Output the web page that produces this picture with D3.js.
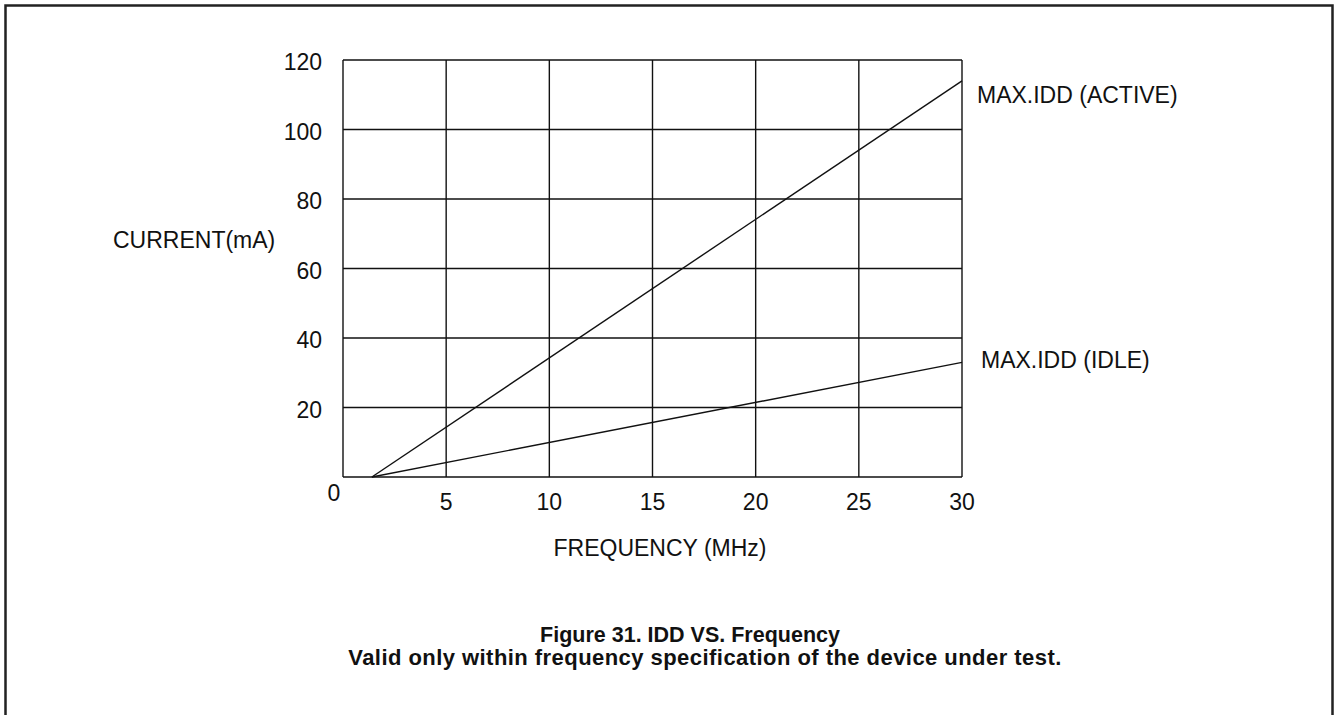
<!DOCTYPE html>
<html>
<head>
<meta charset="utf-8">
<script src="https://cdn.jsdelivr.net/npm/d3@7"></script>
<style>
  html, body { margin: 0; padding: 0; background: #fff; }
  text { font-family: "Liberation Sans", Arial, sans-serif; fill: #111; }
</style>
</head>
<body>
<div id="chart"></div>
<script>
// Data
const xTicks = [0, 5, 10, 15, 20, 25, 30];
const yTicks = [20, 40, 60, 80, 100, 120];
const activeSeries = [[1.4, 0], [30, 114]];
const idleSeries = [[1.4, 0], [30, 33]];
const seriesNames = ["MAX.IDD (ACTIVE)", "MAX.IDD (IDLE)"];

const width = 1335, height = 715;
const plot = { left: 343, right: 962, top: 60, bottom: 477 };
const fs = "23px";

const svg = d3.select("#chart")
    .append("svg")
    .attr("width", width)
    .attr("height", height);

// outer frame (no bottom edge)
svg.append("path")
    .attr("d", `M5.5,${height} L5.5,5.5 L1332.5,5.5 L1332.5,${height}`)
    .attr("fill", "none")
    .attr("stroke", "#222")
    .attr("stroke-width", 2.5);

const x = d3.scaleLinear().domain([0, 30]).range([plot.left, plot.right]);
const y = d3.scaleLinear().domain([0, 120]).range([plot.bottom, plot.top]);

// grid
const grid = svg.append("g").attr("stroke", "#111").attr("stroke-width", 1.4);
grid.selectAll(".vx")
    .data(xTicks)
    .enter()
    .append("line")
    .attr("x1", d => x(d)).attr("x2", d => x(d))
    .attr("y1", plot.top).attr("y2", plot.bottom);
grid.selectAll(".hy")
    .data([0].concat(yTicks))
    .enter()
    .append("line")
    .attr("x1", plot.left).attr("x2", plot.right)
    .attr("y1", d => y(d)).attr("y2", d => y(d));

// tick labels
svg.selectAll(".ylab")
    .data(yTicks)
    .enter()
    .append("text")
    .attr("x", plot.left - 21)
    .attr("y", d => y(d) + 10)
    .attr("text-anchor", "end")
    .style("font-size", fs)
    .text(d => d);

svg.selectAll(".xlab")
    .data(xTicks.slice(1))
    .enter()
    .append("text")
    .attr("x", d => x(d))
    .attr("y", 510)
    .attr("text-anchor", "middle")
    .style("font-size", fs)
    .text(d => d);

svg.append("text")
    .attr("x", x(0) - 9)
    .attr("y", 501)
    .attr("text-anchor", "middle")
    .style("font-size", fs)
    .text(xTicks[0]);

// series lines
const line = d3.line().x(d => x(d[0])).y(d => y(d[1]));
[activeSeries, idleSeries].forEach(s => {
    svg.append("path")
        .attr("d", line(s))
        .attr("fill", "none")
        .attr("stroke", "#111")
        .attr("stroke-width", 1.4);
});

// series labels
svg.append("text")
    .attr("x", 977).attr("y", 103)
    .style("font-size", fs)
    .text(seriesNames[0]);
svg.append("text")
    .attr("x", 981).attr("y", 368)
    .style("font-size", fs)
    .text(seriesNames[1]);

// axis titles
svg.append("text")
    .attr("x", 113).attr("y", 248)
    .style("font-size", fs)
    .text("CURRENT(mA)");
svg.append("text")
    .attr("x", 660).attr("y", 556)
    .attr("text-anchor", "middle")
    .style("font-size", fs)
    .text("FREQUENCY (MHz)");

// caption
svg.append("text")
    .attr("x", 690).attr("y", 642)
    .attr("text-anchor", "middle")
    .style("font-size", "21.5px")
    .style("font-weight", "bold")
    .text("Figure 31. IDD VS. Frequency");
svg.append("text")
    .attr("x", 705).attr("y", 665)
    .attr("text-anchor", "middle")
    .style("font-size", "22px")
    .style("font-weight", "bold")
    .style("letter-spacing", "0.45px")
    .text("Valid only within frequency specification of the device under test.");
</script>
</body>
</html>
